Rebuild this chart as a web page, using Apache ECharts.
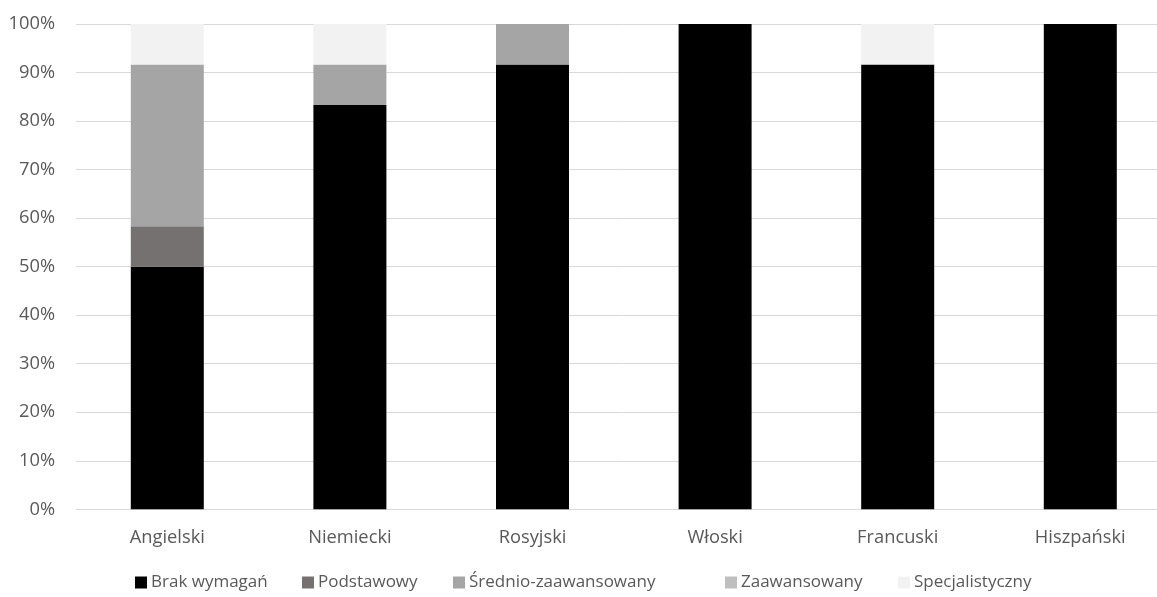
<!DOCTYPE html>
<html>
<head>
<meta charset="utf-8">
<script src="https://cdn.jsdelivr.net/npm/echarts@6/dist/echarts.min.js"></script>
<style>
  html, body { margin: 0; padding: 0; background: #ffffff; overflow: hidden; }
  #chart { width: 1180px; height: 597px; }
</style>
</head>
<body>
<div id="chart"></div>
<script>
// Languages and the share of job offers by required proficiency level (%)
const categories = ['Angielski', 'Niemiecki', 'Rosyjski', 'Włoski', 'Francuski', 'Hiszpański'];
const levelNames = ['Brak wymagań', 'Podstawowy', 'Średnio-zaawansowany', 'Zaawansowany', 'Specjalistyczny'];
const brakWymagan     = [50.0, 83.33, 91.67, 100, 91.67, 100];
const podstawowy      = [8.33, 0, 0, 0, 0, 0];
const sredniozaaw     = [33.33, 8.33, 8.33, 0, 0, 0];
const zaawansowany    = [0, 0, 0, 0, 0, 0];
const specjalistyczny = [8.34, 8.34, 0, 0, 8.33, 0];
const yTicks = [0, 10, 20, 30, 40, 50, 60, 70, 80, 90, 100];

const seriesValues = [brakWymagan, podstawowy, sredniozaaw, zaawansowany, specjalistyczny];
const colors = ['#000000', '#767171', '#A5A5A5', '#BFBFBF', '#F2F2F2'];
const fontFamily = '"Open Sans", "Noto Sans", sans-serif';

// one legend block per level so each entry sits at its own horizontal slot
const legendLeft = [135, 302, 453, 725, 898];
const legends = levelNames.map((name, i) => ({
  bottom: 1,
  left: legendLeft[i] - 5,
  itemWidth: 12,
  itemHeight: 12,
  icon: 'rect',
  textStyle: { color: '#595959', fontSize: 17, fontFamily: fontFamily, padding: [0, 0, 0, -1] },
  data: [name]
}));

const chart = echarts.init(document.getElementById('chart'), null, { renderer: 'canvas' });
chart.setOption({
  animation: false,
  backgroundColor: '#ffffff',
  color: colors,
  textStyle: { fontFamily: fontFamily },
  grid: { left: 76, top: 24, width: 1095.6, height: 485.3, containLabel: false },
  xAxis: {
    type: 'category',
    data: categories,
    axisLine: { show: true, lineStyle: { color: '#D9D9D9', width: 1 } },
    axisTick: { show: false },
    axisLabel: { color: '#595959', fontSize: 18.3, margin: 19, fontFamily: fontFamily }
  },
  yAxis: {
    type: 'value',
    min: yTicks[0],
    max: yTicks[yTicks.length - 1],
    interval: 10,
    axisLine: { show: false },
    axisTick: { show: false },
    splitLine: { lineStyle: { color: '#D9D9D9', width: 1 } },
    axisLabel: { color: '#595959', fontSize: 18.3, margin: 21, formatter: v => v + '%', fontFamily: fontFamily }
  },
  legend: legends,
  series: levelNames.map((name, i) => ({
    name: name,
    type: 'bar',
    stack: 'total',
    barWidth: 73,
    data: seriesValues[i],
    itemStyle: { color: colors[i] }
  }))
});
</script>
</body>
</html>
